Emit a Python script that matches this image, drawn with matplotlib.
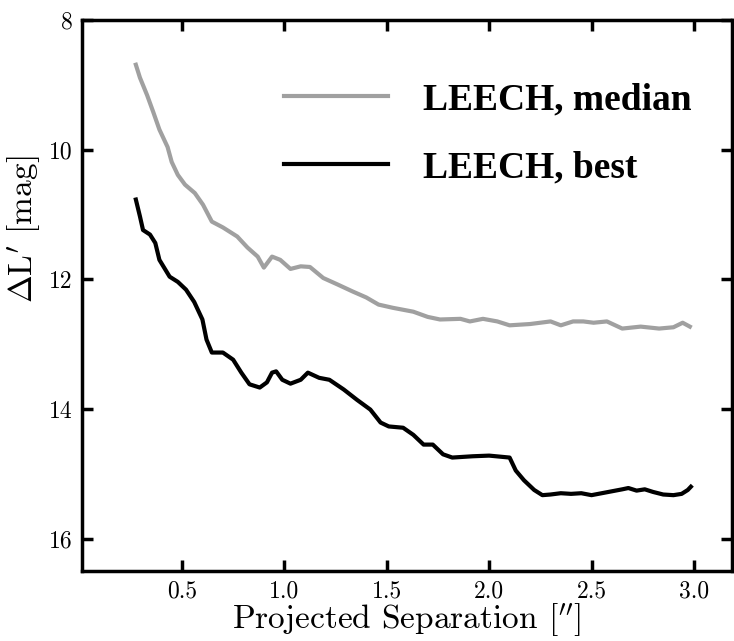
import matplotlib
matplotlib.use('Agg')
import matplotlib.pyplot as plt

plt.rcParams['font.family'] = 'serif'
plt.rcParams['font.serif'] = ['cmr10']
plt.rcParams['mathtext.fontset'] = 'cm'
plt.rcParams['axes.unicode_minus'] = False
plt.rcParams['axes.formatter.use_mathtext'] = True

# LEECH median contrast curve
sep_median = [0.275, 0.295, 0.33, 0.36, 0.39, 0.43, 0.45, 0.48, 0.515, 0.563, 0.603, 0.646,
              0.70, 0.77, 0.82, 0.87, 0.90, 0.94, 0.98, 1.03, 1.08, 1.125, 1.19, 1.26, 1.335,
              1.40, 1.46, 1.53, 1.63, 1.70, 1.76, 1.86, 1.906, 1.97, 2.04, 2.10, 2.20, 2.30,
              2.35, 2.41, 2.46, 2.51, 2.575, 2.65, 2.74, 2.83, 2.90, 2.945, 2.98]
dmag_median = [8.69, 8.89, 9.16, 9.42, 9.69, 9.96, 10.19, 10.39, 10.54, 10.67, 10.85, 11.11,
               11.20, 11.34, 11.51, 11.65, 11.82, 11.65, 11.70, 11.84, 11.80, 11.81, 11.98, 12.08, 12.19,
               12.28, 12.39, 12.44, 12.50, 12.58, 12.62, 12.61, 12.65, 12.61, 12.65, 12.71, 12.69, 12.65,
               12.71, 12.65, 12.65, 12.67, 12.65, 12.76, 12.73, 12.76, 12.74, 12.67, 12.73]

# LEECH best contrast curve
sep_best = [0.275, 0.295, 0.31, 0.344, 0.37, 0.39, 0.44, 0.48, 0.52, 0.56, 0.60, 0.62, 0.646,
            0.70, 0.75, 0.79, 0.83, 0.88, 0.915, 0.94, 0.96, 0.99, 1.03, 1.08, 1.115, 1.17,
            1.22, 1.29, 1.355, 1.42, 1.47, 1.51, 1.58, 1.63, 1.68, 1.725, 1.775, 1.82, 1.92,
            2.0, 2.10, 2.13, 2.17, 2.22, 2.26, 2.30, 2.35, 2.40, 2.45, 2.50, 2.55, 2.60, 2.65,
            2.68, 2.72, 2.76, 2.80, 2.85, 2.90, 2.94, 2.97, 2.985]
dmag_best = [10.77, 11.03, 11.24, 11.31, 11.44, 11.70, 11.96, 12.04, 12.16, 12.35, 12.62, 12.93, 13.13,
             13.13, 13.24, 13.44, 13.62, 13.67, 13.59, 13.44, 13.42, 13.55, 13.61, 13.55, 13.44, 13.52,
             13.55, 13.70, 13.86, 14.01, 14.21, 14.27, 14.29, 14.40, 14.55, 14.55, 14.70, 14.75, 14.73,
             14.72, 14.75, 14.95, 15.10, 15.25, 15.33, 15.32, 15.30, 15.31, 15.30, 15.33, 15.30, 15.27, 15.24,
             15.22, 15.26, 15.24, 15.28, 15.32, 15.33, 15.31, 15.25, 15.20]

x_ticks = [0.5, 1.0, 1.5, 2.0, 2.5, 3.0]
y_ticks = [8, 10, 12, 14, 16]

fig = plt.figure(figsize=(7.34, 6.41), dpi=100)
ax = fig.add_axes([0.1117, 0.1092, 0.8856, 0.8596])

ax.plot(sep_median, dmag_median, color='#a0a0a0', lw=3.0, label='LEECH, median')
ax.plot(sep_best, dmag_best, color='black', lw=3.0, label='LEECH, best')

ax.set_xlim(0.012, 3.186)
ax.set_ylim(16.5, 8)
ax.set_xticks(x_ticks)
ax.set_yticks(y_ticks)
ax.set_xticklabels(['0.5', '1.0', '1.5', '2.0', '2.5', '3.0'])
ax.set_yticklabels([str(t) for t in y_ticks])

for s in ax.spines.values():
    s.set_linewidth(2.5)
ax.tick_params(direction='in', length=8, width=2.5, labelsize=17, pad=7,
               top=True, right=True)

ax.set_xlabel("Projected Separation [$''$]", fontsize=24, labelpad=-1)
ax.set_ylabel(r"$\Delta$L$'$ [mag]", fontsize=24)
ax.yaxis.set_label_coords(-0.058, 0.62)

leg = ax.legend(loc='upper left', bbox_to_anchor=(0.311, 0.887), frameon=False,
                borderaxespad=0, borderpad=0, handlelength=2.78, handletextpad=0.93,
                labelspacing=0.88,
                prop={'family': 'Liberation Serif', 'weight': 'bold', 'size': 27})
for line in leg.get_lines():
    line.set_linewidth(3.0)

fig.savefig('out.png', dpi=100)
